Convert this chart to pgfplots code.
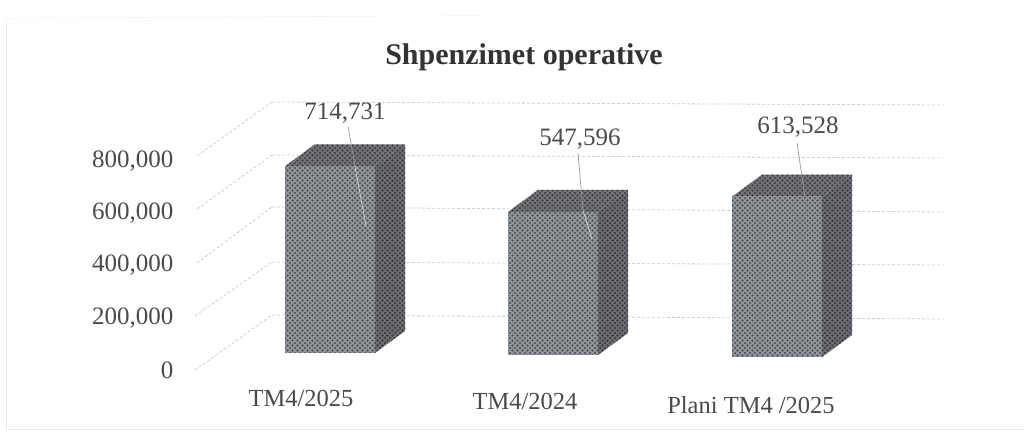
\documentclass[border=0pt]{standalone}
\usepackage{fontspec}
\setmainfont{Liberation Serif}
\usepackage{pgfplots}
\pgfplotsset{compat=1.18}
\usetikzlibrary{patterns}
\pgfdeclarepatternformonly{halftone}{\pgfqpoint{-1.5pt}{-1.5pt}}{\pgfqpoint{4pt}{4pt}}{\pgfqpoint{5pt}{5pt}}{%
  \pgfpathcircle{\pgfqpoint{0pt}{0pt}}{1.4pt}%
  \pgfpathcircle{\pgfqpoint{2.5pt}{2.5pt}}{1.4pt}%
  \pgfusepath{fill}}
\definecolor{frontbg}{HTML}{959A9E}
\definecolor{frontdot}{HTML}{55585D}
\definecolor{sidebg}{HTML}{6E6F74}
\definecolor{sidedot}{HTML}{404045}
\definecolor{topbg}{HTML}{74747A}
\definecolor{topdot}{HTML}{46464B}
\definecolor{txt}{HTML}{4A4A4A}
\definecolor{gridc}{HTML}{C8D2CF}
\tikzset{
 front/.style={draw=none,fill=frontbg,postaction={pattern=halftone,pattern color=frontdot}},
 side/.style={draw=none,fill=sidebg,postaction={pattern=halftone,pattern color=sidedot}},
 topf/.style={draw=none,fill=topbg,postaction={pattern=halftone,pattern color=topdot}},
 gl/.style={draw=gridc,line width=0.8pt,densely dashed},
 lead/.style={draw=gray!80,line width=0.7pt},
 val/.style={font=\fontsize{25}{29}\selectfont,text=txt,inner sep=0pt}
}
\begin{document}
\begin{tikzpicture}
\begin{axis}[
  scale only axis, width=1029pt, height=433pt,
  xmin=0, xmax=1029, ymin=-252632, ymax=1404784,
  clip=false,
  axis line style={draw=none},
  tick style={draw=none},
  scaled y ticks=false,
  ytick={0,200000,400000,600000,800000},
  yticklabel style={xshift=177pt,yshift=-3pt,anchor=east,text=txt,font=\fontsize{25}{29}\selectfont,
    /pgf/number format/.cd,fixed,1000 sep={,},assume math mode=true},
  xtick={301,525,751},
  xticklabels={\raisebox{7pt}[0pt][0pt]{TM4/2025},\raisebox{4pt}[0pt][0pt]{TM4/2024},\raisebox{0pt}[0pt][0pt]{Plani TM4 /2025}},
  xticklabel style={anchor=base,yshift=19pt,text=txt,font=\fontsize{24.5}{28}\selectfont},
]
% scan frame
\addplot[draw=gridc!70,line width=0.6pt,densely dotted] coordinates {(6,1320000)(6,-240000)(1025,-240000)};
\addplot[draw=gridc!60,line width=0.6pt,densely dotted] coordinates {(6,1335000)(480,1345000)};
% back wall grid
\addplot[gl] coordinates {(272,1014354)(943,1002870)};
\addplot[gl] coordinates {(272,811483)(943,800000)};
\addplot[gl] coordinates {(272,612440)(943,593301)};
\addplot[gl] coordinates {(272,401914)(943,390430)};
\addplot[gl] coordinates {(272,199043)(943,183732)};
% side wall grid
\addplot[gl] coordinates {(195,-11483)(272,199043)};
\addplot[gl] coordinates {(195,195216)(272,401914)};
\addplot[gl] coordinates {(197,398086)(272,612440)};
\addplot[gl] coordinates {(197,604785)(272,811483)};
\addplot[gl] coordinates {(197,807655)(272,1014354)};
% bar 1
\begin{scope}[yshift=7pt]
\addplot[side] coordinates {(375,0)(405,84200)(405,798931)(375,714731)} --cycle;
\addplot[topf] coordinates {(285,714731)(375,714731)(405,798931)(315,798931)} --cycle;
\addplot[front] coordinates {(285,0)(375,0)(375,714731)(285,714731)} --cycle;
\end{scope}
% bar 2
\begin{scope}[yshift=6pt]
\addplot[side] coordinates {(598,0)(628,84200)(628,631796)(598,547596)} --cycle;
\addplot[topf] coordinates {(508,547596)(598,547596)(628,631796)(538,631796)} --cycle;
\addplot[front] coordinates {(508,0)(598,0)(598,547596)(508,547596)} --cycle;
\end{scope}
% bar 3
\begin{scope}[yshift=5pt]
\addplot[side] coordinates {(822,0)(852,84200)(852,697728)(822,613528)} --cycle;
\addplot[topf] coordinates {(732,613528)(822,613528)(852,697728)(762,697728)} --cycle;
\addplot[front] coordinates {(732,0)(822,0)(822,613528)(732,613528)} --cycle;
\end{scope}
% leaders
\addplot[lead] coordinates {(348,921000)(355,769000)};
\addplot[lead,draw=gray!35] coordinates {(355,769000)(366,540000)};
\addplot[lead] coordinates {(578,819000)(583,600000)};
\addplot[lead,draw=gray!35] coordinates {(583,600000)(592,490000)};
\addplot[lead] coordinates {(797,858000)(805,651000)};
% labels
\node[val] at (axis cs:345,972000) {714,731};
\node[val] at (axis cs:580,873000) {547,596};
\node[val] at (axis cs:798,919000) {613,528};
\node[font=\fontsize{30}{34}\selectfont\bfseries,text=black!80,inner sep=0pt] at (axis cs:524,1185000) {Shpenzimet operative};
\end{axis}
\end{tikzpicture}
\end{document}
